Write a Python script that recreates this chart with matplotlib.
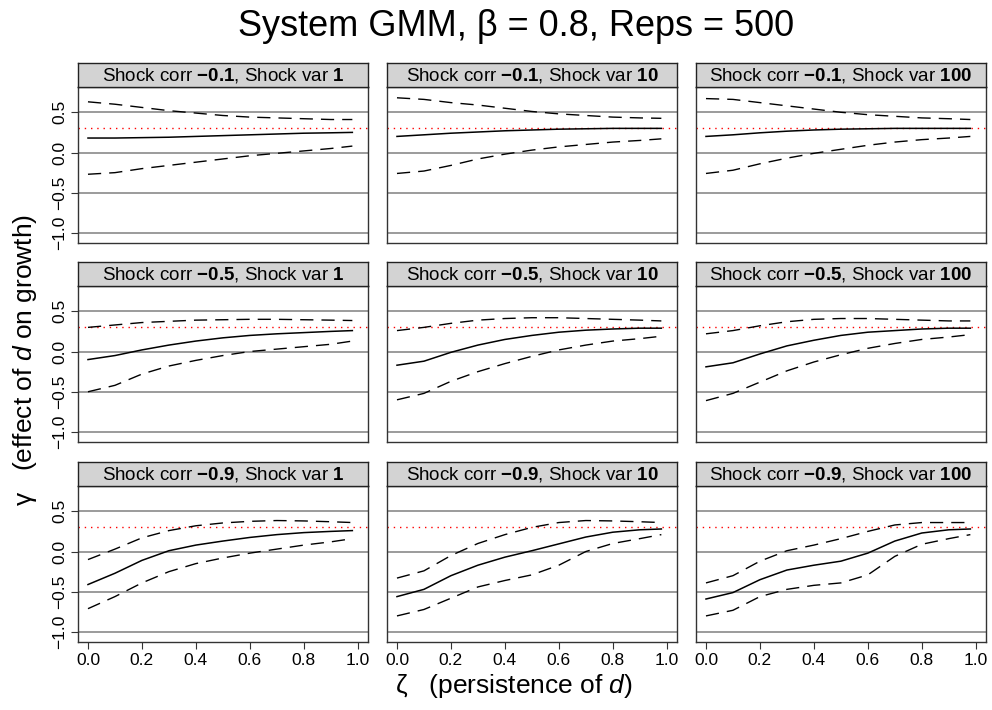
import matplotlib
matplotlib.use("Agg")
import matplotlib.pyplot as plt

plt.rcParams['font.family'] = ['Liberation Sans', 'DejaVu Sans']
plt.rcParams['mathtext.fontset'] = 'custom'
plt.rcParams['mathtext.rm'] = 'Liberation Sans'
plt.rcParams['mathtext.it'] = 'Liberation Sans:italic'
plt.rcParams['mathtext.bf'] = 'Liberation Sans:bold'

# persistence values (x axis)
zeta = [0.0, 0.1, 0.2, 0.3, 0.4, 0.5, 0.6, 0.7, 0.8, 0.9, 0.98]
true_gamma = 0.3

corr_labels = ["\u22120.1", "\u22120.5", "\u22120.9"]
var_labels = ["1", "10", "100"]

# median estimate, upper and lower bands; one list per shock var (1, 10, 100)
med_c01 = [[0.18, 0.18, 0.185, 0.19, 0.20, 0.21, 0.22, 0.23, 0.24, 0.245, 0.25],
           [0.20, 0.22, 0.24, 0.255, 0.27, 0.28, 0.29, 0.295, 0.30, 0.30, 0.30],
           [0.20, 0.22, 0.245, 0.265, 0.28, 0.29, 0.295, 0.30, 0.30, 0.30, 0.30]]
hi_c01 = [[0.63, 0.60, 0.56, 0.52, 0.49, 0.46, 0.44, 0.43, 0.42, 0.41, 0.41],
          [0.68, 0.66, 0.62, 0.59, 0.55, 0.51, 0.48, 0.46, 0.44, 0.43, 0.425],
          [0.67, 0.66, 0.62, 0.58, 0.54, 0.50, 0.47, 0.45, 0.43, 0.42, 0.41]]
lo_c01 = [[-0.27, -0.25, -0.20, -0.16, -0.12, -0.08, -0.04, -0.01, 0.02, 0.05, 0.08],
          [-0.26, -0.23, -0.16, -0.08, -0.02, 0.03, 0.07, 0.10, 0.13, 0.15, 0.17],
          [-0.26, -0.22, -0.14, -0.07, -0.01, 0.04, 0.09, 0.13, 0.16, 0.18, 0.20]]

med_c05 = [[-0.10, -0.05, 0.02, 0.08, 0.13, 0.17, 0.20, 0.22, 0.235, 0.25, 0.26],
           [-0.17, -0.12, -0.01, 0.08, 0.15, 0.20, 0.24, 0.265, 0.28, 0.29, 0.29],
           [-0.19, -0.14, -0.03, 0.07, 0.14, 0.20, 0.24, 0.26, 0.28, 0.29, 0.29]]
hi_c05 = [[0.30, 0.33, 0.36, 0.375, 0.39, 0.395, 0.40, 0.40, 0.395, 0.39, 0.385],
          [0.26, 0.30, 0.35, 0.39, 0.41, 0.42, 0.42, 0.41, 0.40, 0.39, 0.38],
          [0.22, 0.26, 0.32, 0.37, 0.40, 0.41, 0.41, 0.40, 0.39, 0.38, 0.38]]
lo_c05 = [[-0.50, -0.42, -0.28, -0.18, -0.11, -0.05, 0.0, 0.03, 0.06, 0.09, 0.13],
          [-0.60, -0.52, -0.37, -0.25, -0.15, -0.06, 0.02, 0.08, 0.13, 0.16, 0.19],
          [-0.61, -0.52, -0.38, -0.24, -0.13, -0.04, 0.04, 0.10, 0.15, 0.18, 0.21]]

med_c09 = [[-0.41, -0.27, -0.11, 0.01, 0.08, 0.13, 0.175, 0.21, 0.235, 0.25, 0.26],
           [-0.56, -0.47, -0.30, -0.17, -0.07, 0.01, 0.095, 0.18, 0.24, 0.27, 0.28],
           [-0.59, -0.51, -0.35, -0.23, -0.17, -0.12, -0.02, 0.13, 0.23, 0.27, 0.28]]
hi_c09 = [[-0.10, 0.03, 0.17, 0.26, 0.32, 0.355, 0.375, 0.385, 0.38, 0.37, 0.36],
          [-0.33, -0.24, -0.05, 0.10, 0.21, 0.30, 0.36, 0.385, 0.38, 0.37, 0.36],
          [-0.39, -0.30, -0.12, 0.01, 0.08, 0.16, 0.25, 0.33, 0.36, 0.36, 0.36]]
lo_c09 = [[-0.71, -0.56, -0.39, -0.25, -0.15, -0.08, -0.02, 0.03, 0.08, 0.12, 0.16],
          [-0.80, -0.72, -0.58, -0.44, -0.36, -0.29, -0.17, 0.0, 0.10, 0.16, 0.21],
          [-0.80, -0.73, -0.56, -0.47, -0.42, -0.39, -0.29, -0.06, 0.09, 0.16, 0.21]]

meds = [med_c01, med_c05, med_c09]
his = [hi_c01, hi_c05, hi_c09]
los = [lo_c01, lo_c05, lo_c09]

W, H = 992, 710
fig = plt.figure(figsize=(W / 100, H / 100), dpi=100)

col_left = [78, 387, 696]
col_w = 290
row_top = [87, 286, 486]
row_h = 156
strip_h = 24

def rect(l, t, w, h):
    return [l / W, 1 - (t + h) / H, w / W, h / H]

for r in range(3):
    for c in range(3):
        ax = fig.add_axes(rect(col_left[c], row_top[r], col_w, row_h))
        for g in [0.5, 0.0, -0.5, -1.0]:
            ax.axhline(g, color='#8a8a8a', lw=1.2, zorder=1)
        ax.axhline(true_gamma, color='red', lw=1.0, ls=(0, (1, 3.5)), zorder=2)
        ax.plot(zeta, meds[r][c], color='black', lw=1.1, zorder=3)
        ax.plot(zeta, his[r][c], color='black', lw=1.0, dashes=(9.5, 5.8), zorder=3)
        ax.plot(zeta, los[r][c], color='black', lw=1.0, dashes=(9.5, 5.8), zorder=3)
        ax.set_xlim(-0.037, 1.038)
        ax.set_ylim(-1.124, 0.814)
        for s in ax.spines.values():
            s.set_color('#333333')
            s.set_linewidth(1.0)
        ax.set_xticks([0.0, 0.2, 0.4, 0.6, 0.8, 1.0])
        ax.set_yticks([-1.0, -0.5, 0.0, 0.5])
        ax.tick_params(direction='out', length=5, width=0.8, color='#333333',
                       labelsize=12.5, pad=3)
        if r == 2:
            ax.set_xticklabels(["0.0", "0.2", "0.4", "0.6", "0.8", "1.0"])
        else:
            ax.tick_params(axis='x', length=0, labelbottom=False)
        if c == 0:
            ax.set_yticklabels(["\u22121.0", "\u22120.5", "0.0", "0.5"],
                               rotation=90, va='center')
        else:
            ax.tick_params(axis='y', length=0, labelleft=False)

        sax = fig.add_axes(rect(col_left[c], row_top[r] - strip_h, col_w, strip_h))
        sax.set_facecolor('#d3d3d3')
        sax.set_xticks([])
        sax.set_yticks([])
        for s in sax.spines.values():
            s.set_color('#222222')
            s.set_linewidth(1.0)
        lab = ("Shock corr $\\mathbf{" + corr_labels[r] + "}$, Shock var $\\mathbf{"
               + var_labels[c] + "}$")
        sax.text(0.5, 0.48, lab, ha='center', va='center', fontsize=13.5,
                 transform=sax.transAxes)

fig.text(0.52, 1 - 27 / H, "System GMM, \u03b2 = 0.8, Reps = 500",
         ha='center', va='center', fontsize=26)
fig.text(514 / W, 1 - 686 / H, "\u03b6   (persistence of $\\mathit{d}$)",
         ha='center', va='center', fontsize=19)
fig.text(25 / W, 1 - 360 / H, "\u03b3   (effect of $\\mathit{d}$ on growth)",
         ha='center', va='center', rotation=90, fontsize=19)

fig.savefig("out.png", dpi=100)
